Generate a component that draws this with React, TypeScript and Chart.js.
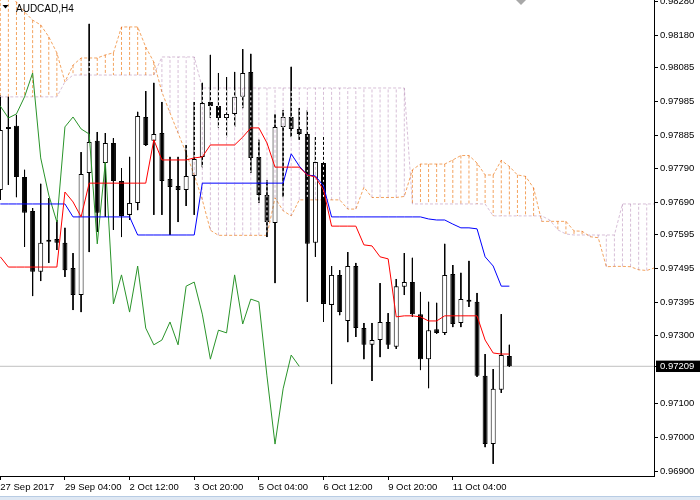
import React, { useEffect, useRef } from 'react';
import { Chart, registerables } from 'chart.js';

Chart.register(...registerables);

// ---------- data ----------
const symbolTitle = 'AUDCAD,H4';

const xTickBars = [0, 8, 16, 24, 32, 40, 48, 56];
const xTickLabels = ['27 Sep 2017', '29 Sep 04:00', '2 Oct 12:00', '3 Oct 20:00', '5 Oct 04:00', '6 Oct 12:00', '9 Oct 20:00', '11 Oct 04:00'];

const yTickValues = [0.9828, 0.9818, 0.98085, 0.97985, 0.97885, 0.9779, 0.9769, 0.97595, 0.97495, 0.97395, 0.973, 0.97209, 0.971, 0.97, 0.969];
const yTickLabels = ['0.98280', '0.98180', '0.98085', '0.97985', '0.97885', '0.97790', '0.97690', '0.97595', '0.97495', '0.97395', '0.97300', '0.97209', '0.97100', '0.97000', '0.96900'];
const currentPrice = 0.97209;

const opens = [
  0.97726, 0.97905, 0.97914, 0.97764, 0.97664, 0.97486, 0.97574, 0.97582, 0.97571, 0.97497,
  0.97418, 0.97776, 0.9787, 0.97805, 0.97864, 0.97752, 0.97653, 0.97688, 0.9794, 0.9787,
  0.97893, 0.97758, 0.97738, 0.97726, 0.97767, 0.97823, 0.97984, 0.97972, 0.97937, 0.97949,
  0.97999, 0.98072, 0.97823, 0.97711, 0.97629, 0.97911, 0.9794, 0.97905, 0.9789, 0.97571,
  0.97805, 0.97389, 0.97477, 0.97342, 0.97503, 0.97321, 0.97272, 0.97286, 0.97339, 0.97266,
  0.97442, 0.97456, 0.97362, 0.9723, 0.97318, 0.97307, 0.9748, 0.97336, 0.974, 0.97398,
  0.97181, 0.96981, 0.9714, 0.97239,
];
const highs = [
  0.98002, 0.97999, 0.97946, 0.97785, 0.97673, 0.97744, 0.97702, 0.97638, 0.97615, 0.97541,
  0.97837, 0.98213, 0.97896, 0.97893, 0.97878, 0.9779, 0.97823, 0.97955, 0.98016, 0.9804,
  0.97984, 0.97823, 0.97823, 0.97858, 0.97984, 0.9804, 0.98122, 0.98069, 0.98057, 0.98072,
  0.98139, 0.98125, 0.97873, 0.97755, 0.97949, 0.9796, 0.98087, 0.97966, 0.9796, 0.97881,
  0.97881, 0.97503, 0.97491, 0.97544, 0.97512, 0.97336, 0.97336, 0.97453, 0.97365, 0.97465,
  0.97541, 0.97527, 0.97427, 0.97398, 0.97395, 0.97568, 0.97506, 0.97483, 0.97518, 0.97424,
  0.97245, 0.97201, 0.97362, 0.97272,
];
const lows = [
  0.97697, 0.97741, 0.97705, 0.97559, 0.97415, 0.97459, 0.97512, 0.9755, 0.97471, 0.97374,
  0.97368, 0.97544, 0.97603, 0.97647, 0.97609, 0.97588, 0.97638, 0.97667, 0.97855, 0.97653,
  0.97653, 0.97594, 0.97632, 0.97679, 0.97653, 0.97793, 0.97937, 0.97908, 0.97881, 0.97911,
  0.97966, 0.97776, 0.97688, 0.97588, 0.97453, 0.97705, 0.97881, 0.97873, 0.97398, 0.9753,
  0.97339, 0.97157, 0.97359, 0.9728, 0.97295, 0.9723, 0.97166, 0.97236, 0.9726, 0.9726,
  0.97418, 0.97354, 0.97198, 0.97145, 0.97304, 0.97301, 0.97324, 0.97324, 0.97383, 0.97178,
  0.96972, 0.96923, 0.97131, 0.97207,
];
const closes = [
  0.97902, 0.97911, 0.97764, 0.97659, 0.97486, 0.97571, 0.97579, 0.97571, 0.97491, 0.97418,
  0.97773, 0.97867, 0.97659, 0.97864, 0.97752, 0.9765, 0.97688, 0.97943, 0.97858, 0.9789,
  0.97752, 0.97735, 0.97726, 0.97767, 0.97817, 0.97981, 0.97972, 0.97937, 0.97949, 0.97999,
  0.98069, 0.9782, 0.97711, 0.97632, 0.97911, 0.9794, 0.97905, 0.9789, 0.97568, 0.97808,
  0.97392, 0.97477, 0.97368, 0.97503, 0.97321, 0.97272, 0.97286, 0.97339, 0.97272, 0.97444,
  0.97456, 0.97362, 0.9723, 0.97315, 0.97307, 0.97477, 0.97333, 0.97406, 0.97398, 0.97181,
  0.96981, 0.97143, 0.97242, 0.97209,
];

// Tenkan-sen (red), bars 0..63
const tenkan = [
  0.9753, 0.975, 0.975, 0.975, 0.975, 0.975, 0.975, 0.975, 0.9772, 0.97691,
  0.97647, 0.97746, 0.97746, 0.97746, 0.97746, 0.97746, 0.97746, 0.97746, 0.97746, 0.97873,
  0.97814, 0.97814, 0.97814, 0.97814, 0.9782, 0.97823, 0.97858, 0.97858, 0.97858, 0.97858,
  0.97881, 0.97908, 0.97908, 0.97864, 0.97793, 0.97793, 0.97793, 0.97793, 0.9777, 0.97764,
  0.97726, 0.9762, 0.9762, 0.9762, 0.9762, 0.97565, 0.97562, 0.9753, 0.97524, 0.97354,
  0.97357, 0.97357, 0.97354, 0.97342, 0.97342, 0.97357, 0.97357, 0.97357, 0.97357, 0.97357,
  0.97286, 0.97248, 0.97245, 0.97245,
];
// Kijun-sen (blue), bars 0..63
const kijun = [
  0.97685, 0.97685, 0.97685, 0.97685, 0.97685, 0.97685, 0.97685, 0.97685, 0.97685, 0.97647,
  0.97647, 0.97647, 0.97647, 0.97647, 0.97647, 0.97647, 0.97647, 0.97594, 0.97594, 0.97594,
  0.97594, 0.97594, 0.97594, 0.97594, 0.97594, 0.97746, 0.97746, 0.97746, 0.97746, 0.97746,
  0.97746, 0.97746, 0.97746, 0.97746, 0.97746, 0.97746, 0.97832, 0.97796, 0.9777, 0.97767,
  0.97738, 0.97647, 0.97647, 0.97647, 0.97647, 0.97647, 0.97647, 0.97647, 0.97647, 0.97647,
  0.97647, 0.97647, 0.97647, 0.97641, 0.97638, 0.97638, 0.97626, 0.97615, 0.97615, 0.97612,
  0.9753, 0.97503, 0.97444, 0.97444,
];
// Chikou span (green), bars -1..37
const chikouFirstBar = -1;
const chikou = [
  0.97981, 0.97972, 0.97937, 0.97949, 0.97999, 0.98069, 0.9782, 0.97711, 0.97632, 0.97911,
  0.9794, 0.97905, 0.9789, 0.97568, 0.97808, 0.97392, 0.97477, 0.97368, 0.97503, 0.97321,
  0.97272, 0.97286, 0.97339, 0.97272, 0.97444, 0.97456, 0.97362, 0.9723, 0.97315, 0.97307,
  0.97477, 0.97333, 0.97406, 0.97398, 0.97181, 0.96981, 0.97143, 0.97242, 0.97209,
];
// Senkou span A and B, bars 0..81
const spanA = [
  0.98318, 0.98301, 0.98277, 0.98248, 0.98224, 0.9821, 0.98175, 0.98128, 0.98043, 0.98092,
  0.98113, 0.98113, 0.98113, 0.98122, 0.98128, 0.98204, 0.98204, 0.98204, 0.98145, 0.98101,
  0.98013, 0.97952, 0.97893, 0.97834, 0.9777, 0.97697, 0.97608, 0.97593, 0.97593, 0.97593,
  0.97593, 0.97593, 0.97593, 0.97593, 0.97703, 0.97665, 0.9765, 0.97697, 0.97697, 0.97697,
  0.97697, 0.97697, 0.97697, 0.9767, 0.9767, 0.97734, 0.97704, 0.97704, 0.97704, 0.97704,
  0.97707, 0.97785, 0.97802, 0.97802, 0.97802, 0.97802, 0.97814, 0.97827, 0.97827, 0.97805,
  0.9777, 0.9777, 0.97813, 0.97795, 0.9777, 0.97766, 0.97732, 0.97634, 0.97634, 0.97634,
  0.97634, 0.97606, 0.97605, 0.97589, 0.97586, 0.97501, 0.97502, 0.97502, 0.97501, 0.97492,
  0.9749, 0.97498,
];
const spanB = [
  0.97999, 0.97999, 0.97999, 0.97999, 0.97999, 0.97999, 0.97999, 0.97999, 0.98043, 0.98063,
  0.98063, 0.98063, 0.98063, 0.98063, 0.98063, 0.98063, 0.98063, 0.98063, 0.98063, 0.98063,
  0.98116, 0.98116, 0.98116, 0.98116, 0.98116, 0.98025, 0.98025, 0.98025, 0.98025, 0.98025,
  0.98025, 0.98025, 0.98025, 0.98025, 0.98025, 0.98025, 0.98025, 0.98025, 0.98025, 0.98025,
  0.98025, 0.98025, 0.98025, 0.98025, 0.98025, 0.98025, 0.98025, 0.98025, 0.98025, 0.98025,
  0.98025, 0.97685, 0.97685, 0.97685, 0.97685, 0.97685, 0.97685, 0.97685, 0.97685, 0.97685,
  0.97685, 0.9765, 0.9765, 0.9765, 0.9765, 0.9765, 0.9765, 0.9765, 0.97638, 0.97609,
  0.97597, 0.97594, 0.97594, 0.97594, 0.97594, 0.97594, 0.97594, 0.97685, 0.97685, 0.97685,
  0.97685, 0.97685,
];

// ---------- layout constants ----------
const X_MIN = -0.037;
const X_MAX = 80.9;
const Y_MIN = 0.968874;
const Y_MAX = 0.98283;
const FONT_FAMILY = "'Liberation Sans', Arial, sans-serif";
const SANDY = '#F4A460';
const THISTLE = '#D8BFD8';
const currentIdx = yTickLabels.indexOf('0.97209');

type P = { x: number; y: number | null };

function verticals(pred: (a: number, b: number) => boolean): P[] {
  const pts: P[] = [];
  for (let i = 0; i < spanA.length; i++) {
    const a = spanA[i];
    const b = spanB[i];
    if (!pred(a, b)) continue;
    pts.push({ x: i, y: a }, { x: i, y: b }, { x: i, y: null });
  }
  return pts;
}

const blendPlugin = {
  id: 'blendKumo',
  beforeDatasetDraw(chart: any, args: any) {
    const ds = chart.data.datasets[args.index];
    if (ds && ds.label && String(ds.label).startsWith('kumo')) {
      chart.ctx.save();
      chart.ctx.globalCompositeOperation = 'multiply';
    }
  },
  afterDatasetDraw(chart: any, args: any) {
    const ds = chart.data.datasets[args.index];
    if (ds && ds.label && String(ds.label).startsWith('kumo')) {
      chart.ctx.restore();
    }
  },
};

const decorPlugin = {
  id: 'decor',
  beforeDraw(chart: any) {
    const ctx = chart.ctx;
    ctx.save();
    ctx.fillStyle = '#ffffff';
    ctx.fillRect(0, 0, chart.width, chart.height);
    ctx.restore();
  },
  afterDraw(chart: any) {
    const ctx = chart.ctx;
    ctx.save();
    ctx.fillStyle = '#000';
    ctx.beginPath();
    ctx.moveTo(2.5, 5);
    ctx.lineTo(8.5, 5);
    ctx.lineTo(5.5, 8.5);
    ctx.closePath();
    ctx.fill();
    ctx.font = `10px ${FONT_FAMILY}`;
    ctx.textBaseline = 'alphabetic';
    ctx.textAlign = 'left';
    ctx.fillText(symbolTitle, 16, 11.5);
    // chart shift marker
    ctx.fillStyle = '#a8a8a8';
    ctx.beginPath();
    ctx.moveTo(516, 0);
    ctx.lineTo(526, 0);
    ctx.lineTo(521, 5);
    ctx.closePath();
    ctx.fill();
    // bottom window strip
    ctx.fillStyle = '#dfe8f3';
    ctx.fillRect(0, 496, chart.width, 4);
    ctx.fillStyle = '#b8cce4';
    ctx.fillRect(0, 496, chart.width, 1);
    ctx.restore();
  },
};

export default function App() {
  const ref = useRef<HTMLCanvasElement>(null);

  useEffect(() => {
    document.body.style.margin = '0';
    const canvas = ref.current;
    if (!canvas) return;

    const wickPts: P[] = [];
    opens.forEach((_, i) => {
      wickPts.push({ x: i, y: highs[i] }, { x: i, y: lows[i] }, { x: i, y: null });
    });
    const bodyPts = opens.map((o, i) => ({ x: i, y: [o, closes[i]] }));
    const bodyColors = opens.map((o, i) => (closes[i] >= o ? '#ffffff' : '#000000'));
    const allVerticals = verticals(() => true);
    const upVerticals = verticals((a, b) => a > b);
    const downVerticals = verticals((a, b) => a < b);

    const lineBase = {
      type: 'line' as const,
      pointRadius: 0,
      pointHoverRadius: 0,
      pointHitRadius: 0,
      tension: 0,
      fill: false,
      spanGaps: false,
      borderWidth: 1,
    };

    const font = { family: FONT_FAMILY, size: 9.5 };

    const chart = new Chart(canvas, {
      type: 'line',
      data: {
        datasets: [
          {
            ...lineBase,
            label: 'price',
            data: [{ x: X_MIN - 1, y: currentPrice }, { x: X_MAX + 1, y: currentPrice }],
            borderColor: '#c0c0c0',
            order: 20,
          },
          { ...lineBase, label: 'wicks', data: wickPts, borderColor: '#000000', order: 19 },
          {
            type: 'bar',
            label: 'bodies',
            data: bodyPts as any,
            backgroundColor: bodyColors,
            borderColor: '#000000',
            borderWidth: 1,
            borderSkipped: false,
            barThickness: 5,
            minBarLength: 2,
            inflateAmount: 0,
            order: 18,
          } as any,
          {
            ...lineBase,
            label: 'gaps',
            data: allVerticals,
            borderColor: '#ffffff',
            borderDash: [2, 3],
            borderDashOffset: 2,
            order: 17,
          },
          { ...lineBase, label: 'kumo-up', data: upVerticals, borderColor: SANDY, borderDash: [3, 2], order: 16 },
          { ...lineBase, label: 'kumo-down', data: downVerticals, borderColor: THISTLE, borderDash: [3, 2], order: 15 },
          {
            ...lineBase,
            label: 'kumo-spanA',
            data: spanA.map((v, i) => ({ x: i, y: v })),
            borderColor: SANDY,
            borderDash: [3, 2],
            order: 14,
          },
          {
            ...lineBase,
            label: 'kumo-spanB',
            data: spanB.map((v, i) => ({ x: i, y: v })),
            borderColor: THISTLE,
            borderDash: [3, 2],
            order: 13,
          },
          {
            ...lineBase,
            label: 'chikou',
            data: chikou.map((v, i) => ({ x: i + chikouFirstBar, y: v })),
            borderColor: '#2a942a',
            order: 3,
          },
          {
            ...lineBase,
            label: 'kijun',
            data: kijun.map((v, i) => ({ x: i, y: v })),
            borderColor: '#0000ff',
            order: 2,
          },
          {
            ...lineBase,
            label: 'tenkan',
            data: tenkan.map((v, i) => ({ x: i, y: v })),
            borderColor: '#ff0000',
            order: 1,
          },
        ] as any,
      },
      options: {
        animation: false,
        responsive: false,
        devicePixelRatio: 1,
        events: [],
        layout: { padding: 0 },
        plugins: {
          legend: { display: false },
          tooltip: { enabled: false },
          title: { display: false },
        },
        scales: {
          x: {
            type: 'linear',
            position: 'bottom',
            min: X_MIN,
            max: X_MAX,
            offset: false,
            bounds: 'data',
            afterBuildTicks: (s: any) => {
              s.ticks = xTickBars.map((v) => ({ value: v }));
            },
            afterFit: (s: any) => {
              s.height = 24;
              s.paddingLeft = 0;
              s.paddingRight = 0;
            },
            ticks: {
              callback: (_v: any, idx: number) => xTickLabels[idx],
              autoSkip: false,
              maxRotation: 0,
              minRotation: 0,
              align: 'start',
              padding: 2,
              color: '#000',
              font,
            },
            grid: { offset: false, drawOnChartArea: false, drawTicks: true, tickLength: 4, tickColor: '#000', color: '#000' },
            border: { display: true, color: '#000' },
          },
          y: {
            type: 'linear',
            position: 'right',
            min: Y_MIN,
            max: Y_MAX,
            beginAtZero: false,
            afterBuildTicks: (s: any) => {
              s.ticks = yTickValues.map((v) => ({ value: v }));
            },
            afterFit: (s: any) => {
              s.width = 46;
              s.paddingTop = 0;
              s.paddingBottom = 0;
            },
            ticks: {
              callback: (_v: any, idx: number) => yTickLabels[idx],
              autoSkip: false,
              padding: 2,
              color: (c: any) => (c.index === currentIdx ? '#ffffff' : '#000000'),
              showLabelBackdrop: (c: any) => c.index === currentIdx,
              backdropColor: '#000000',
              backdropPadding: { left: 4, right: 6, top: 0, bottom: 0 },
              font,
            },
            grid: { drawOnChartArea: false, drawTicks: true, tickLength: 4, tickColor: '#000', color: '#000' },
            border: { display: true, color: '#000' },
          },
        },
      } as any,
      plugins: [decorPlugin, blendPlugin],
    });

    return () => chart.destroy();
  }, []);

  return (
    <div style={{ width: 700, height: 500, position: 'relative', background: '#fff' }}>
      <canvas ref={ref} width={700} height={500} style={{ display: 'block', width: 700, height: 500 }} />
    </div>
  );
}
